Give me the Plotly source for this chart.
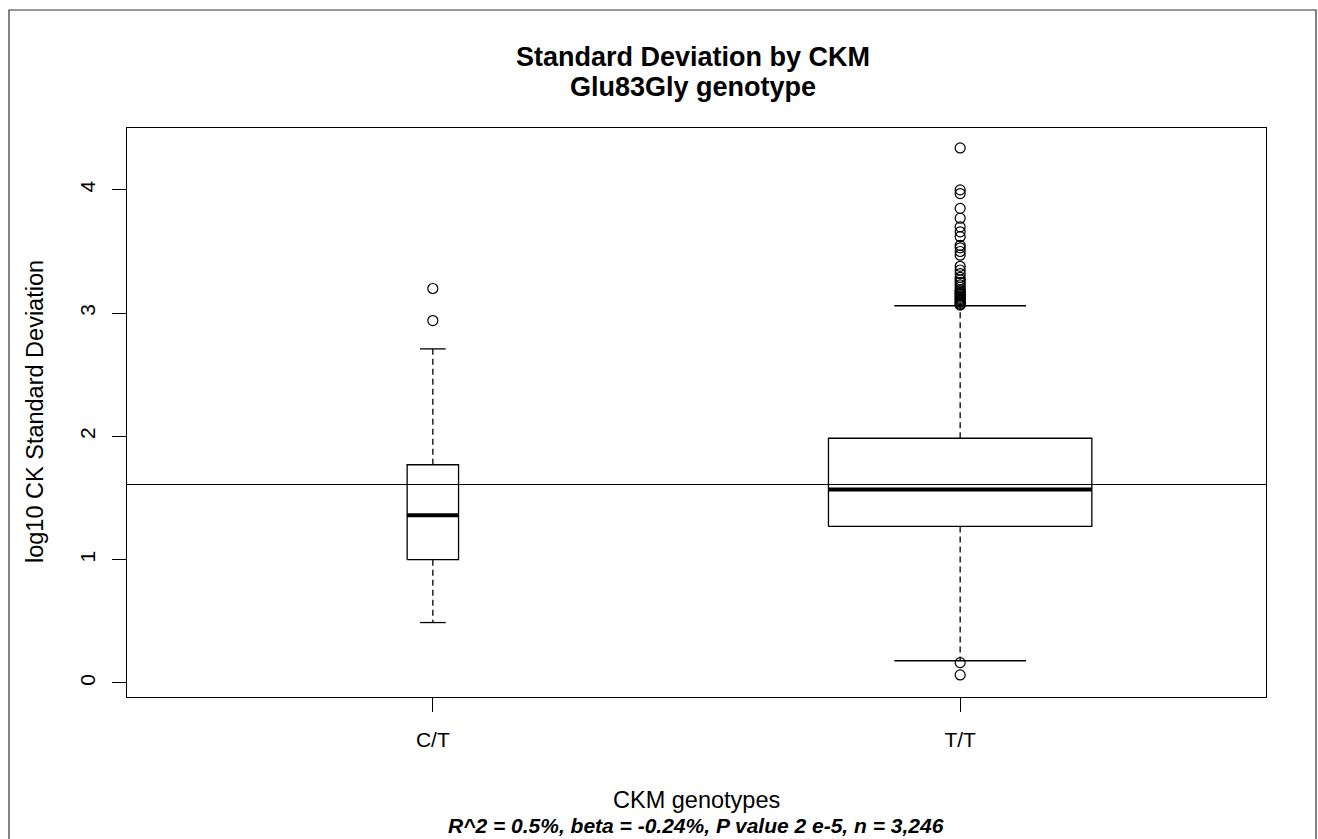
import plotly.graph_objects as go

# ---- data ----
groups = ["C/T", "T/T"]
q1 = [1.00, 1.27]
median = [1.36, 1.57]
q3 = [1.77, 1.985]
lower_whisker = [0.49, 0.18]
upper_whisker = [2.71, 3.06]
box_width = [0.0975, 0.4995]
outliers_ct = [3.20, 2.94]
outliers_tt = [4.34, 4.00, 3.97, 3.85, 3.77, 3.70, 3.66, 3.62, 3.55, 3.53, 3.50,
               3.47, 3.38, 3.35, 3.32, 3.29, 3.27, 3.25, 3.23, 3.21, 3.19, 3.18,
               3.17, 3.16, 3.15, 3.14, 3.13, 3.12, 3.11, 3.10, 3.09, 3.08, 3.07,
               3.065, 0.165, 0.065]
overall_line = 1.61
y_ticks = [0, 1, 2, 3, 4]

title_lines = ["Standard Deviation by CKM", "Glu83Gly genotype"]
y_title = "log10 CK Standard Deviation"
x_title = "CKM genotypes"
subtitle = "R^2 = 0.5%, beta = -0.24%, P value 2 e-5, n = 3,246"

# ---- layout geometry ----
W, H = 1318, 839
L, R, T, B = 127, 1266, 128, 697
FONT = "Liberation Sans, Arial, sans-serif"


def px_x(px):
    return (px - L) / (R - L)


def px_y(py):
    return (B - py) / (B - T)


fig = go.Figure()
black = "black"
outliers = [outliers_ct, outliers_tt]

for i, g in enumerate(groups):
    c = i
    hw = box_width[i] / 2
    sw = box_width[i] / 4
    # box
    fig.add_trace(go.Scatter(
        x=[c - hw, c + hw, c + hw, c - hw, c - hw],
        y=[q1[i], q1[i], q3[i], q3[i], q1[i]],
        mode="lines", line=dict(color=black, width=1.3), showlegend=False, hoverinfo="skip"))
    # whiskers (dashed)
    fig.add_trace(go.Scatter(
        x=[c, c, None, c, c], y=[q3[i], upper_whisker[i], None, q1[i], lower_whisker[i]],
        mode="lines", line=dict(color=black, width=1.3, dash="6px,4px"),
        showlegend=False, hoverinfo="skip"))
    # staples
    fig.add_trace(go.Scatter(
        x=[c - sw, c + sw, None, c - sw, c + sw],
        y=[upper_whisker[i], upper_whisker[i], None, lower_whisker[i], lower_whisker[i]],
        mode="lines", line=dict(color=black, width=1.3), showlegend=False, hoverinfo="skip"))
    # median
    fig.add_trace(go.Scatter(
        x=[c - hw, c + hw], y=[median[i], median[i]],
        mode="lines", line=dict(color=black, width=4), showlegend=False, hoverinfo="skip"))
    # outliers
    fig.add_trace(go.Scatter(
        x=[c] * len(outliers[i]), y=outliers[i], mode="markers",
        marker=dict(symbol="circle-open", size=10, color=black, line=dict(width=1.2)),
        showlegend=False, hoverinfo="skip"))

fig.add_shape(type="line", xref="paper", yref="y", x0=0, x1=1,
              y0=overall_line, y1=overall_line, line=dict(color=black, width=1.2))

# outer frame
fig.add_shape(type="rect", xref="paper", yref="paper",
              x0=px_x(9), x1=px_x(1316), y0=px_y(860), y1=px_y(10),
              line=dict(color="#333333", width=1.2), fillcolor="rgba(0,0,0,0)")

annotations = [
    dict(text="<b>%s</b>" % title_lines[0], x=px_x(693), y=px_y(57), font=dict(size=27)),
    dict(text="<b>%s</b>" % title_lines[1], x=px_x(693), y=px_y(87), font=dict(size=27)),
    dict(text=x_title, x=px_x(696), y=px_y(800), font=dict(size=23.5)),
    dict(text="<b><i>%s</i></b>" % subtitle, x=px_x(696), y=px_y(825), font=dict(size=21)),
    dict(text=y_title, x=px_x(35), y=px_y(412), font=dict(size=23.5), textangle=-90),
]
for a in annotations:
    a.update(xref="paper", yref="paper", showarrow=False, xanchor="center", yanchor="middle")
    a["font"].update(family=FONT, color=black)

fig.update_layout(
    width=W, height=H,
    margin=dict(l=L, r=W - R, t=T, b=H - B, pad=0),
    paper_bgcolor="white", plot_bgcolor="white",
    font=dict(family=FONT, color=black, size=21),
    annotations=annotations,
    showlegend=False,
)
fig.update_xaxes(range=[-0.58, 1.58], tickvals=list(range(len(groups))), ticktext=groups,
                 showgrid=False, zeroline=False, showline=True, linecolor=black, linewidth=1.3,
                 mirror=True, ticks="outside", ticklen=14, tickcolor=black, tickwidth=1.2,
                 ticklabelstandoff=10, tickfont=dict(size=21))
fig.update_yaxes(range=[-0.114, 4.502], tickvals=y_ticks, ticktext=[str(v) for v in y_ticks],
                 showgrid=False, zeroline=False, showline=True, linecolor=black, linewidth=1.3,
                 mirror=True, ticks="outside", ticklen=14, tickcolor=black, tickwidth=1.2,
                 tickangle=-90, ticklabelstandoff=8, tickfont=dict(size=21))

fig.write_html("out.html", config={"displayModeBar": False},
               post_script="document.body.style.margin='0';")
